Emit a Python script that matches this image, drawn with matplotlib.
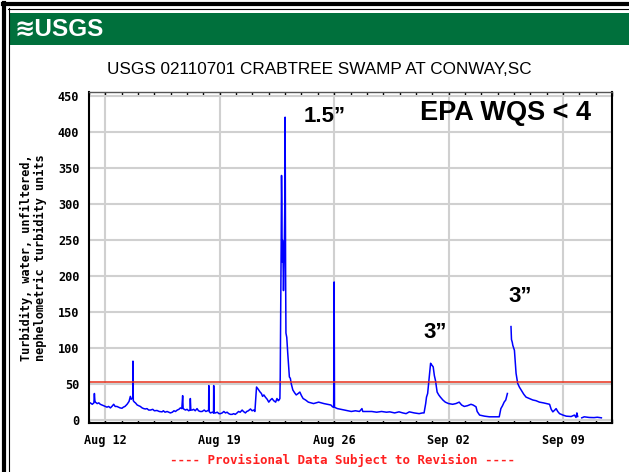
import numpy as np
import matplotlib
matplotlib.use("Agg")
import matplotlib.pyplot as plt
from matplotlib.patches import Rectangle
from matplotlib.lines import Line2D

nan = np.nan

# days since Aug 12 (00:00) and turbidity, FNU
turb_days = [
    -1.0, -0.92, -0.8, -0.7, -0.67, -0.64, -0.61, -0.5, -0.4, -0.31, -0.2, -0.1,
    0.0, 0.1, 0.2, 0.31, 0.4, 0.51, 0.6, 0.71, 0.8, 0.9, 1.02, 1.1, 1.2, 1.33,
    1.45, 1.53, 1.58, 1.63, 1.68, 1.69, 1.71, 1.78, 1.84, 1.95, 2.05, 2.14, 2.25,
    2.35, 2.45, 2.55, 2.65, 2.76, 2.9, 3.0, 3.16, 3.3, 3.47, 3.55, 3.65, 3.78,
    3.88, 3.98, 4.1, 4.2, 4.29, 4.4, 4.5, 4.59, 4.68, 4.73, 4.76, 4.9, 5.0, 5.1,
    5.18, 5.2, 5.23, 5.31, 5.4, 5.5, 5.61, 5.7, 5.8, 5.92, 6.05, 6.15, 6.25,
    6.32, 6.33, 6.35, 6.43, 6.55, 6.62, 6.63, 6.65, 6.73, 6.85, 6.95, 7.04, 7.15,
    7.25, 7.35, 7.45, 7.55, 7.65, 7.76, 7.85, 7.95, 8.06, 8.15, 8.25, 8.37, 8.45,
    8.57, 8.65, 8.75, 8.88, 8.98, 9.08, 9.15, 9.2, 9.25, 9.35, 9.47, 9.55, 9.62,
    9.7, 9.79, 9.9, 10.0, 10.1, 10.2, 10.3, 10.42, 10.5, 10.58, 10.63, 10.68,
    10.7, 10.76, 10.78, 10.8, 10.82, 10.84, 10.87, 10.9, 10.95, 10.98, 11.0,
    11.03, 11.05, 11.1, 11.16, 11.26, 11.32, 11.37, 11.47, 11.58, 11.68, 11.8,
    11.9, 12.0, 12.1, 12.25, 12.42, 12.58, 12.74, 12.9, 13.05, 13.2, 13.37,
    13.6, 13.8, 13.9, 13.97, 13.98, 14.0, 14.02, 14.1, 14.2, 14.4, 14.63, 14.85,
    15.05, 15.3, 15.55, 15.7, 15.75, 16.0, 16.3, 16.6, 16.9, 17.2, 17.4, 17.7,
    17.97, 18.2, 18.4, 18.6, 18.9, 19.2, 19.4, 19.5, 19.6, 19.65, 19.72, 19.8,
    19.87, 19.9, 19.96, 20.06, 20.13, 20.2, 20.3, 20.4, 20.5, 20.65, 20.8, 21.0,
    21.25, 21.45, 21.65, 21.8, 21.96, 22.15, 22.37, 22.5, 22.68, 22.75, 22.9,
    23.2, 23.5, 23.8, 24.1, 24.2, 24.3, 24.4, 24.5, 24.6, 24.7, 24.8, 24.82,
    24.85, 24.9, 24.93, 25.03, 25.13, 25.23, 25.33, 25.44, 25.6, 25.74, 25.95,
    26.15, 26.35, 26.56, 26.8, 27.0, 27.18, 27.28, 27.38, 27.5, 27.58, 27.68,
    27.79, 28.0, 28.2, 28.5, 28.7, 28.8, 28.85, 28.9, 29.0, 29.1, 29.15, 29.3,
    29.6, 29.9, 30.1, 30.35,
]
turb_values = [
    23, 24, 22, 24, 37, 27, 25, 23, 24, 22, 21, 20,
    19, 18, 19, 17, 19, 22, 19, 19, 18, 17, 16.5, 18, 19, 22,
    26, 33, 29, 30, 31, 82, 27, 25, 24, 21, 20, 19, 17,
    16, 15.5, 16, 14, 14, 15, 13, 13.4, 12, 11.5, 13, 11, 12,
    11, 10, 11, 13, 12, 14, 15, 17, 16, 34, 16, 14, 15, 13,
    14, 30, 14, 14, 15, 13, 16, 13, 12, 12, 14, 12, 13,
    14, 48, 12, 10, 11, 10, 48, 10, 10, 11, 9, 9, 10,
    12, 10, 11, 9, 8, 8, 9, 8, 10, 12, 11, 14, 12,
    10, 12, 13, 15.5, 13, 14, 12, 30, 46, 43, 39, 37, 33,
    35, 32, 29, 25, 28, 30, 27, 25, 30, 27, 28, 30,
    60, 250, 340, 300, 220, 250, 230, 180, 240, 300, 421,
    200, 121, 115, 93, 60, 58, 51, 42, 38, 35, 37,
    39, 34, 30, 28, 25, 24, 23, 24, 25, 24, 23,
    22, 21, 18.5, 18, 85, 192, 18, 17, 16, 15, 14, 13,
    12, 13, 12, 16, 12, 12, 12, 11, 12, 11, 11.5, 10,
    11.5, 10, 9, 11.5, 10, 9, 10, 10, 23, 32, 37, 55,
    70, 79, 77, 74, 62, 55, 39, 35, 32, 28, 25, 23,
    22, 23, 25, 21, 19, 20, 22, 21, 18.5, 12, 7,
    5.5, 4.6, 4.6, 4.6, 16, 20, 25, 28, 37, nan, nan, 130,
    112, 108, 104, 97, 65, 51, 46, 42, 36, 32, 30,
    28, 27, 25, 24, 23, 22, 15, 11.5, 14, 16, 12,
    9, 7, 5.5, 5, 7, 3.7, 10, 5, nan, nan, 3.2, 4.6,
    3.7, 3.5, 4, 3.2,
]

wqs_line = 53
x_ticks = [0, 7, 14, 21, 28]
x_tick_labels = ["Aug 12", "Aug 19", "Aug 26", "Sep 02", "Sep 09"]
y_ticks = list(range(0, 451, 50))

mono = "DejaVu Sans Mono"
arial = "Liberation Sans"

fig = plt.figure(figsize=(6.29, 4.72), dpi=100)
W, H = 629, 472

# page frame and USGS banner
fig.add_artist(Rectangle((10 / W, 1 - 45 / H), 619 / W, 32 / H, transform=fig.transFigure,
                         facecolor="#00703c", edgecolor="none"))
fig.add_artist(Line2D([4 / W, 4 / W], [0, 1 - 3 / H], transform=fig.transFigure, color="black", lw=3))
fig.add_artist(Line2D([3 / W, 1], [1 - 4 / H, 1 - 4 / H], transform=fig.transFigure, color="black", lw=3))
fig.add_artist(Line2D([8.5 / W, 8.5 / W], [0, 1 - 8 / H], transform=fig.transFigure, color="black", lw=0.8))
fig.add_artist(Line2D([8 / W, 1], [1 - 8.5 / H, 1 - 8.5 / H], transform=fig.transFigure, color="black", lw=0.8))
fig.text(14 / W, 1 - 29 / H, "≋USGS", color="white", fontsize=17.5, fontweight="bold",
         family=[arial, "DejaVu Sans"], va="center", ha="left")

fig.text(319 / W, 1 - 69 / H, "USGS 02110701 CRABTREE SWAMP AT CONWAY,SC",
         fontsize=12.3, family=arial, ha="center", va="center")

ax = fig.add_axes([89 / W, 1 - 423 / H, (612 - 89) / W, (423 - 92) / H])
ax.plot(turb_days, turb_values, color="#0000ff", lw=1.1)
ax.axhline(wqs_line, color="#e8301a", lw=1.1)

ax.set_xlim(-1, 31)
ax.set_ylim(-4, 456)
ax.set_xticks(x_ticks)
ax.set_xticklabels(x_tick_labels)
ax.set_xticks(np.arange(-1, 32), minor=True)
ax.set_yticks(y_ticks)
ax.grid(True, which="major", color="#d0d0d0", lw=1.5)
ax.set_axisbelow(True)
ax.tick_params(axis="x", which="both", direction="in", top=True, bottom=True, length=3,
               width=1, pad=8)
ax.tick_params(axis="y", length=0, pad=7)
for lab in ax.get_xticklabels() + ax.get_yticklabels():
    lab.set_family(mono)
    lab.set_fontweight("bold")
    lab.set_fontsize(8.6)
for side in ["left", "bottom", "right"]:
    ax.spines[side].set_linewidth(1.5)
    ax.spines[side].set_color("black")
ax.spines["top"].set_linewidth(1.0)
ax.spines["top"].set_color("#555555")

ax.set_ylabel("Turbidity, water, unfiltered,\nnephelometric turbidity units",
              family=mono, fontweight="bold", fontsize=8.6, labelpad=8, linespacing=1.1)

# annotations
fig.text(325 / W, 1 - 117 / H, "1.5\u201d", fontsize=16, fontweight="bold", family=arial,
         ha="center", va="center")
fig.text(505 / W, 1 - 113 / H, "EPA WQS < 4", fontsize=19.5, fontweight="bold", family=arial,
         ha="center", va="center")
fig.text(435 / W, 1 - 333 / H, "3\u201d", fontsize=16, fontweight="bold", family=arial,
         ha="center", va="center")
fig.text(520 / W, 1 - 297 / H, "3\u201d", fontsize=16, fontweight="bold", family=arial,
         ha="center", va="center")

fig.text(343 / W, 1 - 460 / H, "---- Provisional Data Subject to Revision ----",
         color="#ff2020", family=mono, fontweight="bold", fontsize=9, ha="center", va="center")

fig.savefig("out.png", dpi=100)
